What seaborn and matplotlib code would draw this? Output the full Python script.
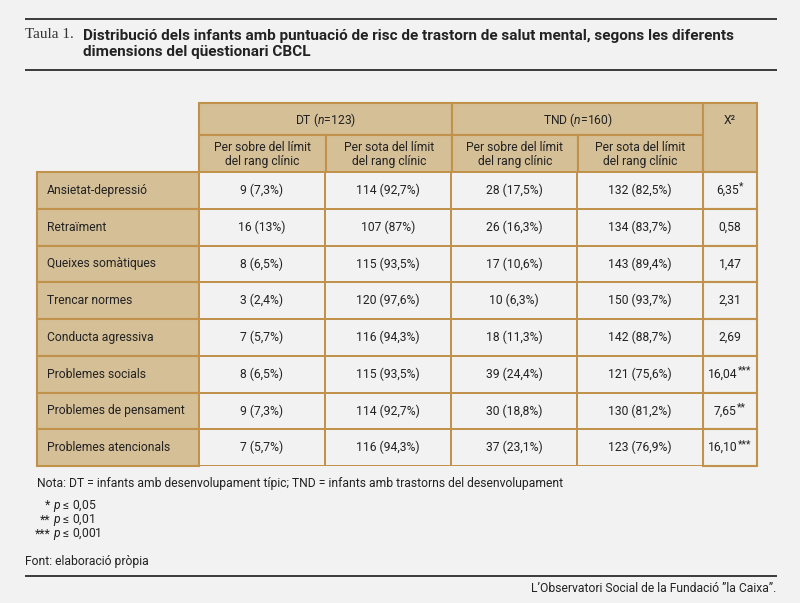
import numpy as np
import pandas as pd
import matplotlib.pyplot as plt
import seaborn as sns
from matplotlib.colors import ListedColormap
from matplotlib.patches import Rectangle

# ---- data ----
dimensions = ["Ansietat-depressió", "Retraïment", "Queixes somàtiques", "Trencar normes",
              "Conducta agressiva", "Problemes socials", "Problemes de pensament",
              "Problemes atencionals"]
dt_above = [9, 16, 8, 3, 7, 8, 9, 7]
dt_above_pct = [7.3, 13, 6.5, 2.4, 5.7, 6.5, 7.3, 5.7]
dt_below = [114, 107, 115, 120, 116, 115, 114, 116]
dt_below_pct = [92.7, 87, 93.5, 97.6, 94.3, 93.5, 92.7, 94.3]
tnd_above = [28, 26, 17, 10, 18, 39, 30, 37]
tnd_above_pct = [17.5, 16.3, 10.6, 6.3, 11.3, 24.4, 18.8, 23.1]
tnd_below = [132, 134, 143, 150, 142, 121, 130, 123]
tnd_below_pct = [82.5, 83.7, 89.4, 93.7, 88.7, 75.6, 81.2, 76.9]
chi2 = [6.35, 0.58, 1.47, 2.31, 2.69, 16.04, 7.65, 16.10]
chi2_stars = ["*", "", "", "", "", "***", "**", "***"]

groups = ["DT", "TND"]
group_n = [123, 160]
sub_headers = ["Per sobre del límit\ndel rang clínic", "Per sota del límit\ndel rang clínic"]

title_label = "Taula 1."
title = ("Distribució dels infants amb puntuació de risc de trastorn de salut mental, segons les diferents\n"
         "dimensions del qüestionari CBCL")
note = "Nota: DT = infants amb desenvolupament típic; TND = infants amb trastorns del desenvolupament"
sig_stars = ["*", "**", "***"]
sig_levels = ["0,05", "0,01", "0,001"]
source = "Font: elaboració pròpia"
credit = "L’Observatori Social de la Fundació ”la Caixa”."

# ---- style ----
BG = "#f2f2f2"
TAN = "#d5bf97"
GOLD = "#c0924b"
RULE = "#3a3a3a"
TXT = "#222222"

sns.set_theme(style="white")
plt.rcParams['font.family'] = ['Roboto', 'DejaVu Sans']
plt.rcParams['mathtext.fontset'] = 'custom'
plt.rcParams['mathtext.rm'] = 'Roboto'
plt.rcParams['mathtext.it'] = 'Roboto:italic'

W, H = 800, 603
fig = plt.figure(figsize=(8, 6.03), dpi=100, facecolor=BG)
ax = fig.add_axes([0, 0, 1, 1])
ax.set_xlim(0, W)
ax.set_ylim(H, 0)
ax.axis('off')

def fmt(v):
    return f"{v:g}".replace(".", ",")

# layout (pixels)
col_edges = [199, 326, 452, 578, 703, 757]
lab_x0 = 37
hdr_top, hdr_mid, body_top, body_bot = 103, 135, 172, 466
row_h = (body_bot - body_top) / len(dimensions)
LW = 1.5
FS = 8.7

# rules and title
for y in [18.5, 69.5, 575.5]:
    ax.plot([25, 777], [y, y], color=RULE, lw=1.4, solid_capstyle='butt')
ax.text(25, 35, title_label, family='Liberation Serif', fontsize=11, color="#333333", va='center')
ax.text(83, 43.8, title, fontsize=10.95, fontweight='bold', fontstretch='condensed', color=TXT,
        va='center', linespacing=1.13)

# header cells
for i, g in enumerate(groups):
    x0, x1 = col_edges[2 * i], col_edges[2 * i + 2]
    ax.add_patch(Rectangle((x0, hdr_top), x1 - x0, hdr_mid - hdr_top, fc=TAN, ec=GOLD, lw=LW))
    ax.text((x0 + x1) / 2, (hdr_top + hdr_mid) / 2 + 1, f"{g} ($\\mathit{{n}}$={group_n[i]})",
            ha='center', va='center', fontsize=FS, color=TXT)
    for j, s in enumerate(sub_headers):
        a, b = col_edges[2 * i + j], col_edges[2 * i + j + 1]
        ax.add_patch(Rectangle((a, hdr_mid), b - a, body_top - hdr_mid, fc=TAN, ec=GOLD, lw=LW))
        ax.text((a + b) / 2, (hdr_mid + body_top) / 2 + 1, s, ha='center', va='center',
                fontsize=FS, color=TXT, linespacing=1.15)
ax.add_patch(Rectangle((col_edges[4], hdr_top), col_edges[5] - col_edges[4], body_top - hdr_top,
                       fc=TAN, ec=GOLD, lw=LW))
ax.text((col_edges[4] + col_edges[5]) / 2, (hdr_top + hdr_mid) / 2 + 1, "X²", ha='center',
        va='center', fontsize=FS, color=TXT)

# label column and chi2 column
for r, name in enumerate(dimensions):
    y0 = body_top + r * row_h
    yc = y0 + row_h / 2
    ax.add_patch(Rectangle((lab_x0, y0), col_edges[0] - lab_x0, row_h, fc=TAN, ec=GOLD, lw=LW))
    ax.text(lab_x0 + 10, yc, name, ha='left', va='center', fontsize=FS, color=TXT)
    ax.add_patch(Rectangle((col_edges[4], y0), col_edges[5] - col_edges[4], row_h, fc=BG, ec=GOLD, lw=LW))
    shift = 2.3 * len(chi2_stars[r])
    t = ax.text((col_edges[4] + col_edges[5]) / 2 - shift, yc, f"{chi2[r]:.2f}".replace(".", ","),
                ha='center', va='center', fontsize=FS, color=TXT)
    if chi2_stars[r]:
        ax.annotate(chi2_stars[r], xy=(1, 1), xycoords=t, xytext=(0.2, 1.5), textcoords='offset points',
                    ha='left', va='top', fontsize=7.5, color=TXT)

# body counts via seaborn heatmap
counts = [dt_above, dt_below, tnd_above, tnd_below]
pcts = [dt_above_pct, dt_below_pct, tnd_above_pct, tnd_below_pct]
pct_mat = np.array(pcts).T
labels = np.array([[f"{c[r]} ({fmt(p[r])}%)" for c, p in zip(counts, pcts)]
                   for r in range(len(dimensions))])
df = pd.DataFrame(pct_mat, index=dimensions)

hax = fig.add_axes([col_edges[0] / W, 1 - body_bot / H,
                    (col_edges[4] - col_edges[0]) / W, (body_bot - body_top) / H])
sns.heatmap(df, ax=hax, cmap=ListedColormap([BG]), cbar=False, annot=labels, fmt='',
            linewidths=1.3, linecolor=GOLD, xticklabels=False, yticklabels=False,
            annot_kws=dict(fontsize=FS, color=TXT))
hax.set_xlabel("")
hax.set_ylabel("")

# notes
ax.text(37, 484, note, fontsize=FS, color=TXT, va='center')
for k, (s, lv) in enumerate(zip(sig_stars, sig_levels)):
    y = 505.5 + k * 14.5
    ax.text(50.5, y, s, ha='right', va='center', fontsize=FS, color=TXT)
    ax.text(53, y, f"$\\mathit{{p}}$ ≤ {lv}", ha='left', va='center', fontsize=FS, color=TXT)
ax.text(25, 561.5, source, fontsize=FS, color=TXT, va='center')
ax.text(776, 588, credit, ha='right', fontsize=FS, color=TXT, va='center')

fig.savefig("out.png", dpi=100, facecolor=BG)
